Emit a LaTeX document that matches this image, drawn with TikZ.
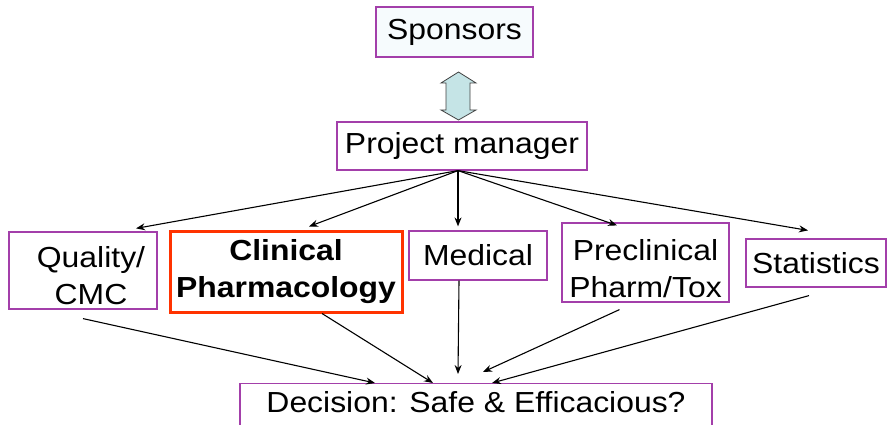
\documentclass[tikz,border=0pt]{standalone}
\usepackage{fontspec}
\setmainfont{Liberation Sans}[FakeStretch=1.1]
\usetikzlibrary{arrows.meta}
\definecolor{boxline}{RGB}{163,63,170}
\definecolor{clinred}{RGB}{255,51,0}
\definecolor{sponfill}{RGB}{246,251,253}
\definecolor{linkfill}{RGB}{197,228,230}
\newcommand\padtop[1]{\rule{0pt}{#1}}
\tikzset{
	role/.style={draw=boxline, line width=1.2pt, align=center, inner sep=0pt, font=\fontsize{29}{37}\selectfont},
	lead/.style={-{Stealth[length=9pt,width=7pt]}, line width=1.1pt},
}
\begin{document}
\begin{tikzpicture} [x=1pt, y=-1pt]
	\useasboundingbox (0,0) rectangle (889,425);
	\clip (0,0) rectangle (889,425);
	\node[role, fill=sponfill, minimum width=157pt, minimum height=50pt] (spon) at (454.5,32) {Sponsors};
	\node[role, minimum width=250pt, minimum height=48pt] (pm) at (462,146) {Project manager};
	\node[role, minimum width=148pt, minimum height=77pt] (qual) at (83,270.5) {\padtop{32pt}\hspace*{16pt}Quality/\\\hspace*{16pt}CMC};
	\node[role, draw=clinred, line width=3pt, font=\fontsize{29}{37}\selectfont\bfseries,
		minimum width=232pt, minimum height=81pt] (clin) at (286,271.5) {Clinical\\Pharmacology};
	\node[role, minimum width=138pt, minimum height=49pt] (med) at (478,255.5) {Medical};
	\node[role, minimum width=167pt, minimum height=79pt] (pre) at (645.5,262.5) {\padtop{33pt}Preclinical\\Pharm/Tox};
	\node[role, minimum width=140pt, minimum height=48pt] (stat) at (816,263) {Statistics};
	\node[role, anchor=north, minimum width=472pt, text height=29pt, text depth=30pt] (dec) at (476,383) {Decision: Safe \& Efficacious?};
	% link between sponsors and project manager
	\draw[fill=linkfill, draw=black!75, line width=0.8pt] (441,83) -- (458.5,72) -- (476,83) -- (470,83) -- (470,110)
		-- (476,110) -- (458.5,120) -- (441,110) -- (446,110) -- (446,83) -- cycle;
	\foreach \n/\dx/\dy in {qual/53/3, clin/23/3, med/-20/4, pre/-28.5/-3, stat/-8/8}{%
		\draw[lead] ([xshift=-4pt]pm.south) -- ([xshift=\dx pt, yshift=\dy pt]\n.north);
	}
	\foreach \n/\ax/\ay/\bx/\by in {qual/0/-9/-101/0, clin/36/0/-43/0, med/-19/0/-18/9, pre/-26/-7/7/11, stat/-7/-8/16/0}{%
		\draw[lead] ([xshift=\ax pt, yshift=\ay pt]\n.south) -- ([xshift=\bx pt, yshift=\by pt]dec.north);
	}
\end{tikzpicture}
\end{document}
